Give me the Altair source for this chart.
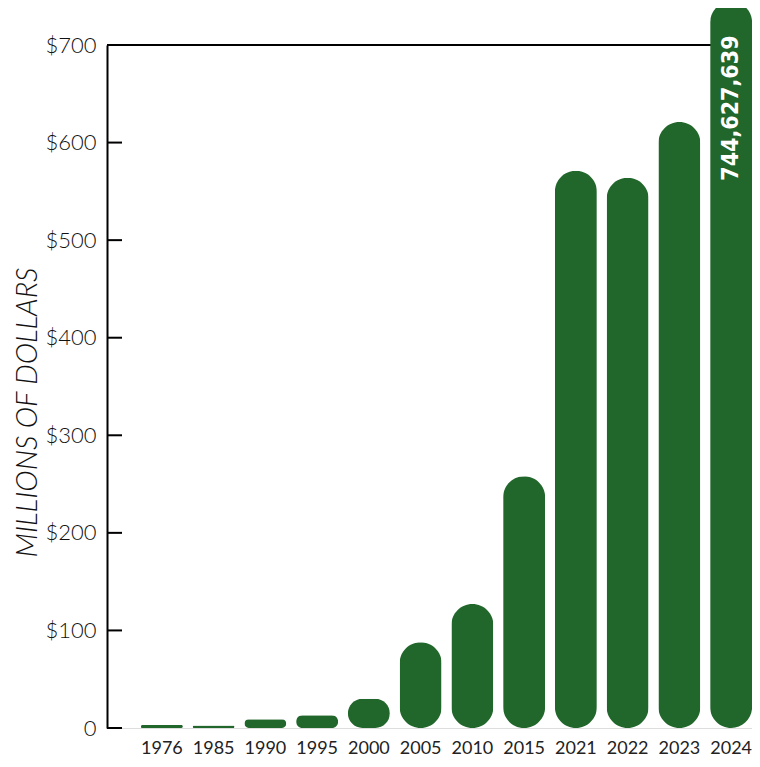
import altair as alt
import pandas as pd

years = ["1976", "1985", "1990", "1995", "2000", "2005", "2010", "2015", "2021", "2022", "2023", "2024"]
values = [3, 2.5, 9, 13, 30, 88, 127, 258, 571, 564, 621, 744.627639]
tick_values = [0, 100, 200, 300, 400, 500, 600]
top_value = [700]
label_years = ["2024"]
label_values = [744.627639]
label_texts = ["744,627,639"]

GREEN = "#21662a"
W, H = 645, 683

df = pd.DataFrame({"year": years, "value": values})
ticks_df = pd.DataFrame({"value": tick_values})
top_df = pd.DataFrame({"value": top_value})
lab_df = pd.DataFrame({"year": label_years, "value": label_values, "text": label_texts})

yscale = alt.Scale(domain=[0, 700], nice=False)
xscale = alt.Scale(domain=years, range=[29, 650], paddingInner=0, paddingOuter=0)

yaxis = alt.Axis(values=tick_values + [700],
                 labelExpr="datum.value == 0 ? '0' : '$' + datum.value",
                 domain=True, domainColor="black", domainWidth=2,
                 ticks=False, grid=False,
                 labelFont="Lato", labelFontSize=22, labelFontWeight=300, labelColor="#111",
                 labelPadding=11,
                 titleFont="Lato",
                 titleFontStyle="italic", titleFontWeight=300,
                 titleFontSize=29, titleColor="#111",
                 titleAngle=270, titleAlign="center", titleBaseline="middle",
                 titleX=-80, titleY=367)
xaxis = alt.Axis(domain=False, ticks=False, labelAngle=0, labelFont="Lato",
                 labelFontSize=18, labelFontWeight=400, labelColor="#222", labelPadding=11)

TITLE = "MILLIONS OF DOLLARS"

top_line = alt.Chart(top_df).mark_rule(color="black", strokeWidth=2).encode(
    y=alt.Y("value:Q", scale=yscale, axis=yaxis, title=TITLE),
    x=alt.value(0),
    x2=alt.value(W),
)

tick_rules = alt.Chart(ticks_df).mark_rule(color="black", strokeWidth=2).encode(
    y=alt.Y("value:Q", scale=yscale, axis=yaxis, title=TITLE),
    x=alt.value(0),
    x2=alt.value(15),
)

bars = alt.Chart(df).mark_bar(width=42, cornerRadius=21, color=GREEN).encode(
    x=alt.X("year:N", scale=xscale, sort=years, title=None, axis=xaxis),
    y=alt.Y("value:Q", scale=yscale, axis=yaxis, title=TITLE),
)

label = alt.Chart(lab_df).mark_text(
    angle=270, align="right", baseline="middle", dx=-34,
    font="DejaVu Sans Condensed", fontWeight="bold", fontSize=23, color="white",
).encode(
    x=alt.X("year:N", scale=xscale, sort=years, title=None, axis=xaxis),
    y=alt.Y("value:Q", scale=yscale, axis=yaxis, title=TITLE),
    text="text:N",
)

chart = alt.layer(top_line, tick_rules, bars, label).properties(
    width=W, height=H,
    autosize=alt.AutoSizeParams(type="none"),
    padding={"left": 99, "top": 37, "right": 0, "bottom": 30},
).configure_view(stroke=None).configure(background="white")

chart.save("out.html", embed_options={"renderer": "svg", "actions": False})
